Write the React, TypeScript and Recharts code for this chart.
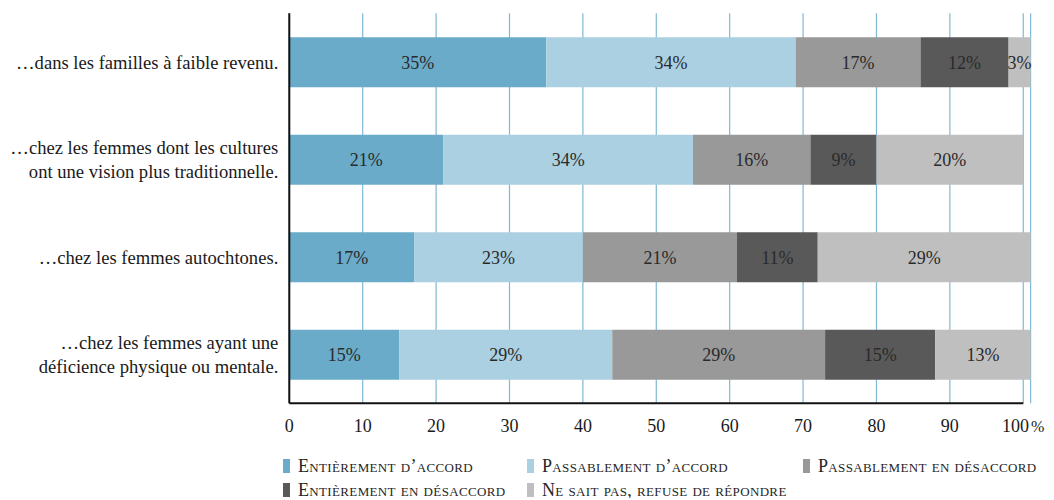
import {
  Bar,
  BarChart,
  CartesianGrid,
  LabelList,
  Legend,
  XAxis,
  YAxis,
} from 'recharts'

const categoryLines = [
  ['…dans les familles à faible revenu.'],
  ['…chez les femmes dont les cultures', 'ont une vision plus traditionnelle.'],
  ['…chez les femmes autochtones.'],
  ['…chez les femmes ayant une', 'déficience physique ou mentale.'],
]

const entierementAccord = [35, 21, 17, 15]
const passablementAccord = [34, 34, 23, 29]
const passablementDesaccord = [17, 16, 21, 29]
const entierementDesaccord = [12, 9, 11, 15]
const neSaitPas = [3, 20, 29, 13]

const xTicks = [0, 10, 20, 30, 40, 50, 60, 70, 80, 90, 100]

const SERIES = [
  { key: 'ea', name: 'Entièrement d’accord', color: '#69abc9', values: entierementAccord },
  { key: 'pa', name: 'Passablement d’accord', color: '#abd0e1', values: passablementAccord },
  { key: 'pd', name: 'Passablement en désaccord', color: '#999999', values: passablementDesaccord },
  { key: 'ed', name: 'Entièrement en désaccord', color: '#595959', values: entierementDesaccord },
  { key: 'ns', name: 'Ne sait pas, refuse de répondre', color: '#bfbfbf', values: neSaitPas },
]

const FONT = '"Liberation Serif", "DejaVu Serif", serif'

const rows = categoryLines.map((lines, i) => {
  const row: Record<string, string | number> = { category: lines.join(' ') }
  SERIES.forEach((s) => {
    row[s.key] = s.values[i]
  })
  return row
})

const CategoryTick = ({ x, y, index }: any) => {
  const lines = categoryLines[index] || []
  const lineHeight = 23.5
  const startY = y - ((lines.length - 1) * lineHeight) / 2
  return (
    <text x={x} y={startY} textAnchor="end" fontFamily={FONT} fontSize={18.6} fill="#1a1a1a">
      {lines.map((line, i) => (
        <tspan key={i} x={x} y={startY + i * lineHeight} dy="0.35em">
          {line}
        </tspan>
      ))}
    </text>
  )
}

// last tick carries the % sign; pulled left a little so it stays inside the page
const ValueTick = ({ x, y, payload }: any) => {
  if (payload.value !== 100) {
    return (
      <text x={x} y={y} dy="0.75em" textAnchor="middle" fontFamily={FONT} fontSize={18} fill="#1a1a1a">
        {payload.value}
      </text>
    )
  }
  return (
    <text x={x + 21} y={y} dy="0.75em" textAnchor="end" fontFamily={FONT} fontSize={18} fill="#1a1a1a">
      100
      <tspan dx={2} fontSize={16}>
        %
      </tspan>
    </text>
  )
}

const legendOrder = [
  { item: 0, left: 275, top: 24 },
  { item: 1, left: 519, top: 24 },
  { item: 2, left: 795, top: 24 },
  { item: 3, left: 275, top: 48 },
  { item: 4, left: 519, top: 48 },
]

const LegendContent = () => (
  <div style={{ position: 'relative', width: 1046, height: 56 }}>
    {legendOrder.map(({ item, left, top }) => (
      <div
        key={item}
        style={{
          position: 'absolute',
          left,
          top: top - 10,
          height: 20,
          display: 'flex',
          alignItems: 'center',
          whiteSpace: 'nowrap',
        }}>
        <span style={{ width: 7, height: 14, background: SERIES[item].color, display: 'inline-block' }} />
        <span
          style={{
            marginLeft: 8,
            fontFamily: FONT,
            fontSize: 18,
            letterSpacing: 0.35,
            fontVariant: 'small-caps',
            color: '#262626',
          }}>
          {SERIES[item].name}
        </span>
      </div>
    ))}
  </div>
)

export default function App() {
  return (
    <div style={{ width: 1046, height: 490 }}>
      <style>{'html { overflow: hidden; }'}</style>
      <BarChart
        width={1046}
        height={490}
        data={rows}
        layout="vertical"
        barCategoryGap={24}
        margin={{ top: 5.3, right: 23.4, left: 0, bottom: 0 }}>
        <CartesianGrid horizontal={false} stroke="#7fb9d6" strokeWidth={1.2} />
        <XAxis
          type="number"
          domain={[0, 101]}
          ticks={xTicks}
          interval={0}
          height={38.7}
          tickLine={false}
          tickSize={0}
          tickMargin={15}
          axisLine={{ stroke: '#111', strokeWidth: 2, strokeDasharray: '734 200' }}
          tick={<ValueTick />}
        />
        <YAxis
          type="category"
          dataKey="category"
          width={281.3}
          tickLine={false}
          tickSize={0}
          tickMargin={11}
          axisLine={{ stroke: '#111', strokeWidth: 2 }}
          tick={<CategoryTick />}
        />
        <Legend verticalAlign="bottom" content={<LegendContent />} wrapperStyle={{ left: 0, width: 1046 }} />
        {SERIES.map((s) => (
          <Bar key={s.key} dataKey={s.key} name={s.name} stackId="a" fill={s.color} isAnimationActive={false}>
            <LabelList
              dataKey={s.key}
              position="center"
              formatter={(v: any) => `${v}%`}
              fill="#2a2a2a"
              fontFamily={FONT}
              fontSize={18}
            />
          </Bar>
        ))}
      </BarChart>
    </div>
  )
}
